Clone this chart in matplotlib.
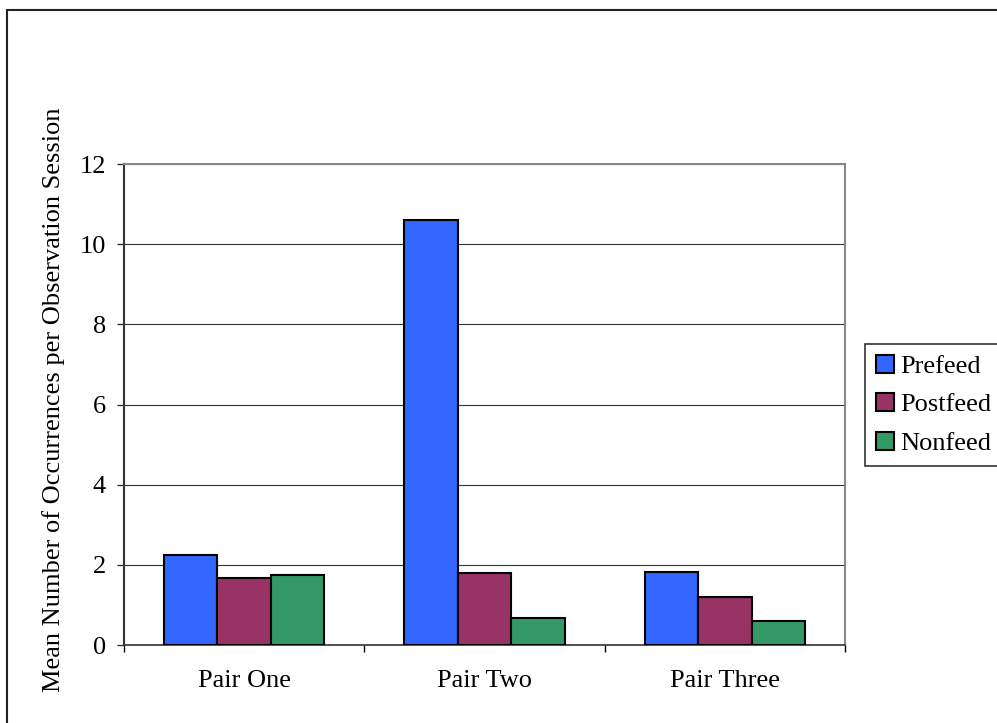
import matplotlib
matplotlib.use("Agg")
import matplotlib.pyplot as plt
from matplotlib.patches import Rectangle
import numpy as np

categories = ["Pair One", "Pair Two", "Pair Three"]
series_names = ["Prefeed", "Postfeed", "Nonfeed"]
prefeed = [2.24, 10.6, 1.81]
postfeed = [1.67, 1.80, 1.20]
nonfeed = [1.74, 0.67, 0.60]
colors = ["#3366FF", "#993366", "#339966"]
y_ticks = [0, 2, 4, 6, 8, 10, 12]

plt.rcParams["font.family"] = ["Liberation Serif", "DejaVu Serif"]
FS = 19

fig = plt.figure(figsize=(9.97, 7.23), dpi=100)
W, H = 997, 723

# outer chart border (only top and left edges visible within the canvas)
fig.patches.append(Rectangle((7 / W, -0.1), 1.2, (H - 10) / H + 0.1,
                             transform=fig.transFigure, fill=False,
                             edgecolor="#222222", linewidth=1.5, zorder=0))

ax = fig.add_axes([124 / W, (H - 645) / H, (845 - 124) / W, (645 - 164) / H])

n = len(categories)
width = 1 / 4.5
centers = np.arange(n) + 0.5
series = [prefeed, postfeed, nonfeed]
for k, (vals, name, col) in enumerate(zip(series, series_names, colors)):
    ax.bar(centers + (k - 1) * width, vals, width=width, color=col,
           edgecolor="black", linewidth=1.5, label=name, zorder=3)

ax.set_xlim(0, n)
ax.set_ylim(0, 12)
ax.set_yticks(y_ticks)
ax.set_yticklabels([str(v) for v in y_ticks], fontsize=FS)
ax.yaxis.grid(True, color="#333333", linewidth=0.8, zorder=1)
ax.set_axisbelow(True)

ax.set_xticks(centers)
ax.set_xticklabels(categories, fontsize=FS)
ax.set_xticks(np.arange(n + 1), minor=True)
ax.tick_params(axis="x", which="major", length=0, pad=18)
ax.tick_params(axis="x", which="minor", length=5, direction="out",
               width=1, color="black")
ax.tick_params(axis="y", length=5, direction="out", width=1, pad=8,
               color="#333333")

ax.spines["top"].set_color("#888888")
ax.spines["right"].set_color("#888888")
ax.spines["top"].set_linewidth(1.5)
ax.spines["right"].set_linewidth(1.5)
ax.spines["left"].set_color("#333333")
ax.spines["left"].set_linewidth(1.5)
ax.spines["bottom"].set_color("#333333")
ax.spines["bottom"].set_linewidth(1.2)

ax.set_ylabel("Mean Number of Occurrences per Observation Session", fontsize=FS)
ax.yaxis.set_label_coords(-0.082, 0.51)

leg = fig.legend(loc="upper left", bbox_to_anchor=(865 / W, (H - 344) / H),
                 fontsize=FS, frameon=True, fancybox=False, edgecolor="black",
                 handlelength=0.68, handleheight=0.68, handletextpad=0.25,
                 labelspacing=0.58, borderpad=0.4, borderaxespad=0)
leg.get_frame().set_linewidth(1.2)
for h in leg.legend_handles:
    h.set_linewidth(1.5)

fig.savefig("out.png", dpi=100, facecolor="white")
